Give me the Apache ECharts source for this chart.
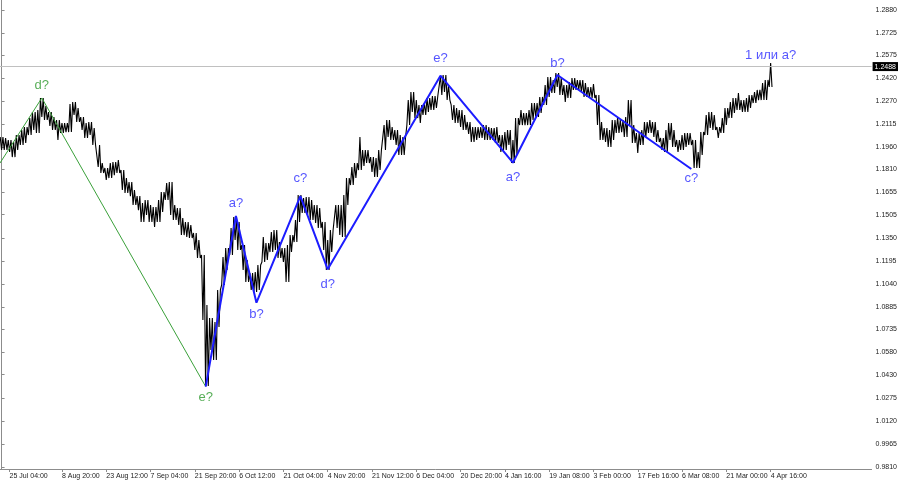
<!DOCTYPE html>
<html>
<head>
<meta charset="utf-8">
<script src="https://cdn.jsdelivr.net/npm/echarts@6/dist/echarts.min.js"></script>
<style>html,body{margin:0;padding:0;background:#fff}#c{width:900px;height:485px}</style>
</head>
<body>
<div id="c"></div>
<script>
// Price columns (each column ~ a group of H4 bars)
var highs = [1.2027,1.2020,1.2007,1.1993,1.2040,1.2074,1.2094,1.2154,1.2195,1.2208,
1.2289,1.2235,1.2195,1.2161,1.2141,1.2121,1.2121,1.2249,1.2262,1.2222,
1.2161,1.2121,1.2128,1.2087,1.1973,1.1852,1.1819,1.1852,1.1859,1.1872,
1.1805,1.1751,1.1724,1.1671,1.1630,1.1584,1.1604,1.1570,1.1557,1.1604,
1.1657,1.1718,1.1724,1.1570,1.1550,1.1483,1.1456,1.1436,1.1382,1.1335,
1.1234,1.0898,1.0811,1.0784,1.0999,1.1221,1.1281,1.1415,1.1489,1.1456,
1.1301,1.1201,1.1113,1.1120,1.1167,1.1355,1.1315,1.1389,1.1402,1.1321,
1.1281,1.1301,1.1368,1.1469,1.1637,1.1617,1.1624,1.1604,1.1570,1.1550,
1.1456,1.1335,1.1402,1.1570,1.1570,1.1637,1.1751,1.1825,1.1852,1.2027,
1.1940,1.1940,1.1892,1.1886,1.1940,1.2107,1.2141,1.2094,1.2074,1.2040,
1.2027,1.2275,1.2329,1.2275,1.2242,1.2255,1.2289,1.2302,1.2302,1.2437,
1.2443,1.2376,1.2242,1.2222,1.2208,1.2175,1.2128,1.2094,1.2094,1.2094,
1.2107,1.2094,1.2087,1.2094,1.2040,1.2060,1.2074,1.2007,1.2154,1.2208,
1.2188,1.2208,1.2255,1.2255,1.2296,1.2376,1.2430,1.2410,1.2457,1.2423,
1.2376,1.2396,1.2423,1.2410,1.2410,1.2390,1.2363,1.2383,1.2309,1.2128,
1.2087,1.2074,1.2141,1.2161,1.2141,1.2161,1.2275,1.2107,1.2054,1.2074,
1.2128,1.2141,1.2128,1.2074,1.2020,1.2074,1.2121,1.2074,1.2007,1.2040,
1.2054,1.2054,1.2007,1.1926,1.2060,1.2175,1.2195,1.2175,1.2094,1.2154,
1.2222,1.2262,1.2289,1.2322,1.2275,1.2289,1.2309,1.2329,1.2343,1.2390,
1.2410,1.2524];
var lows = [1.1940,1.1940,1.1926,1.1892,1.1940,1.1973,1.1987,1.2040,1.2074,1.2054,
1.2161,1.2141,1.2101,1.2074,1.2007,1.2054,1.2060,1.2060,1.2175,1.2128,
1.2074,1.2020,1.2040,1.1973,1.1825,1.1785,1.1738,1.1751,1.1771,1.1785,
1.1671,1.1651,1.1630,1.1570,1.1536,1.1456,1.1503,1.1456,1.1422,1.1456,
1.1523,1.1604,1.1503,1.1469,1.1436,1.1368,1.1355,1.1348,1.1268,1.1214,
1.0797,1.0354,1.0596,1.0529,1.0750,1.1033,1.1133,1.1234,1.1335,1.1268,
1.1133,1.1053,1.0999,1.0986,1.0999,1.1187,1.1201,1.1254,1.1268,1.1214,
1.1187,1.1053,1.1254,1.1321,1.1456,1.1516,1.1503,1.1469,1.1449,1.1415,
1.1268,1.1133,1.1254,1.1415,1.1368,1.1355,1.1570,1.1704,1.1751,1.1805,
1.1832,1.1852,1.1792,1.1758,1.1805,1.1940,1.2027,1.2007,1.1973,1.1906,
1.1906,1.2107,1.2195,1.2154,1.2121,1.2175,1.2195,1.2208,1.2222,1.2309,
1.2329,1.2275,1.2141,1.2121,1.2094,1.2074,1.2047,1.1993,1.2007,1.2020,
1.2007,1.2007,1.2007,1.1987,1.1926,1.1940,1.1973,1.1852,1.1906,1.2107,
1.2107,1.2107,1.2141,1.2161,1.2188,1.2242,1.2296,1.2322,1.2363,1.2309,
1.2262,1.2289,1.2343,1.2343,1.2329,1.2296,1.2289,1.2289,1.2107,1.2007,
1.1993,1.1960,1.2007,1.2054,1.2060,1.2027,1.2107,1.1987,1.1919,1.1973,
1.2027,1.2054,1.2027,1.1993,1.1940,1.1926,1.2007,1.1960,1.1926,1.1940,
1.1960,1.1973,1.1819,1.1819,1.1906,1.2040,1.2087,1.2074,1.2020,1.2054,
1.2107,1.2154,1.2188,1.2208,1.2195,1.2195,1.2222,1.2255,1.2275,1.2275,
1.2275,1.2363];

// Wave vertices: [column index, price]
var greenWaveX = [-0.39, 10.0, 50.7];
var greenWaveY = [1.1852, 1.2289, 1.0350];
var greenWaveLabels = ['', 'd?', 'e?'];
var blueWaveX = [50.7, 58.2, 63.3, 74.2, 81.0, 109.0, 127.0, 138.05, 171.3];
var blueWaveY = [1.0350, 1.1496, 1.0914, 1.1630, 1.1138, 1.2439, 1.1854, 1.2443, 1.1812];
var blueWaveLabels = ['', 'a?', 'b?', 'c?', 'd?', 'e?', 'a?', 'b?', 'c?'];
var lastLabel = '1 или a?';

var currentPrice = 1.2488;

// Axis ticks
var priceTicks = [0.9810,0.9965,1.0120,1.0275,1.0430,1.0580,1.0735,1.0885,1.1040,1.1195,
1.1350,1.1505,1.1655,1.1810,1.1960,1.2115,1.2270,1.2420,1.2575,1.2725,1.2880];
var dateLabels = ['25 Jul 04:00','8 Aug 20:00','23 Aug 12:00','7 Sep 04:00','21 Sep 20:00',
'6 Oct 12:00','21 Oct 04:00','4 Nov 20:00','21 Nov 12:00','6 Dec 04:00','20 Dec 20:00',
'4 Jan 16:00','19 Jan 08:00','3 Feb 00:00','17 Feb 16:00','6 Mar 08:00','21 Mar 00:00','4 Apr 16:00'];
var dateIdx = [2,15,26,37,48,59,70,81,92,103,114,125,136,147,158,169,180,191];

var colW = 4.0284;
var xMin = -0.39;
var xMax = xMin + 872 / colW;

// each column is drawn as strokes between its high and low, like densely packed bars
var zigzag = [];
highs.forEach(function (h, i) {
  var l = lows[i];
  var seq = (i % 2 === 0) ? [h, l, h] : [l, h, l];
  zigzag.push([i - 0.34, seq[0]]);
  zigzag.push([i, seq[1]]);
  zigzag.push([i + 0.34, seq[2]]);
});

function waveData(xs, ys) { return xs.map(function (x, i) { return [x, ys[i]]; }); }

// label placement: above peaks, below troughs
var greenLabelPos = [null, ['top', 6], ['bottom', 4]];
var blueLabelPos = [null, ['top', 6], ['bottom', 5], ['top', 11], ['bottom', 9], ['top', 11], ['bottom', 8], ['top', 5], ['bottom', 3]];

function labelData(xs, ys, labels, pos, color) {
  var out = [];
  for (var i = 0; i < xs.length; i++) {
    if (!labels[i]) continue;
    out.push({
      value: [xs[i], ys[i]],
      label: { show: true, formatter: labels[i], position: pos[i][0], distance: pos[i][1], color: color }
    });
  }
  return out;
}

var chart = echarts.init(document.getElementById('c'), null, { renderer: 'canvas' });
var labelFont = { fontFamily: 'Liberation Sans, Arial, sans-serif', fontSize: 13 };

chart.setOption({
  animation: false,
  backgroundColor: '#ffffff',
  grid: { left: 0, right: 28, top: 0, bottom: 16, containLabel: false },
  xAxis: {
    type: 'value', min: xMin, max: xMax,
    splitLine: { show: false },
    axisLine: { show: true, lineStyle: { color: '#8c8c8c', width: 1 } },
    axisTick: { show: true, length: 3, lineStyle: { color: '#8c8c8c' }, customValues: dateIdx },
    axisLabel: {
      customValues: dateIdx, align: 'left', margin: 4,
      fontFamily: 'Liberation Sans, Arial, sans-serif', fontSize: 7, color: '#222',
      formatter: function (v) { var k = dateIdx.indexOf(v); return k >= 0 ? dateLabels[k] : ''; }
    }
  },
  yAxis: {
    type: 'value', position: 'right', min: 0.97966, max: 1.29472,
    splitLine: { show: false },
    axisLine: { show: true, lineStyle: { color: '#8c8c8c', width: 1 } },
    axisTick: { show: true, length: 3, lineStyle: { color: '#8c8c8c' }, customValues: priceTicks },
    axisLabel: {
      customValues: priceTicks, margin: 4,
      fontFamily: 'Liberation Sans, Arial, sans-serif', fontSize: 7, color: '#222',
      formatter: function (v) { return v.toFixed(4); }
    }
  },
  series: [
    {
      type: 'line', name: 'price', data: zigzag, symbol: 'none', sampling: null,
      lineStyle: { color: '#000', width: 1.1 }, z: 2, silent: true
    },
    {
      type: 'line', name: 'green', data: waveData(greenWaveX, greenWaveY),
      symbol: 'none', lineStyle: { color: '#3aa03a', width: 1 }, z: 3, silent: true
    },
    {
      type: 'line', name: 'blue', data: waveData(blueWaveX, blueWaveY),
      symbol: 'none', lineStyle: { color: '#1c1cff', width: 2 }, z: 4, silent: true,
      markLine: {
        silent: true, symbol: 'none', animation: false,
        lineStyle: { color: '#c0c0c0', width: 1, type: 'solid' },
        label: {
          position: 'end', distance: 1, formatter: currentPrice.toFixed(4),
          backgroundColor: '#000', color: '#fff', padding: [1, 2, 1, 2],
          fontFamily: 'Liberation Sans, Arial, sans-serif', fontSize: 7
        },
        data: [{ yAxis: currentPrice }]
      }
    },
    {
      type: 'scatter', symbolSize: 0, silent: true, z: 5,
      data: labelData(greenWaveX, greenWaveY, greenWaveLabels, greenLabelPos, '#2e9a2e'),
      label: Object.assign({ show: true }, labelFont)
    },
    {
      type: 'scatter', symbolSize: 0, silent: true, z: 5,
      data: labelData(blueWaveX, blueWaveY, blueWaveLabels, blueLabelPos, '#2a2aff'),
      label: Object.assign({ show: true }, labelFont)
    },
    {
      type: 'scatter', symbolSize: 0, silent: true, z: 5,
      data: [{ value: [highs.length - 1, highs[highs.length - 1]],
        label: { show: true, formatter: lastLabel, position: 'top', distance: 1, color: '#2a2aff' } }],
      label: Object.assign({ show: true }, labelFont)
    }
  ]
});
</script>
</body>
</html>
